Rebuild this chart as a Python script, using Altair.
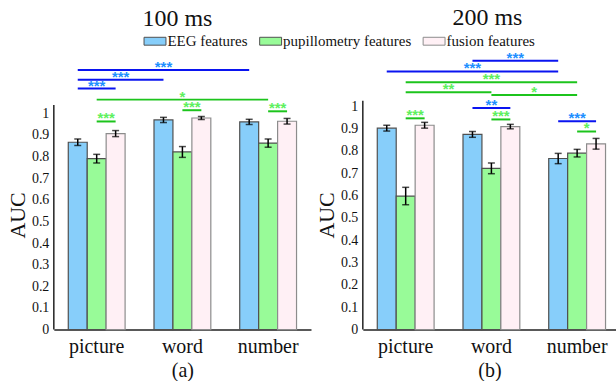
import altair as alt
import pandas as pd

# ---- data -------------------------------------------------------------
categories = ["picture", "word", "number"]
features = ["EEG features", "pupillometry features", "fusion features"]

# mean AUC per stimulus category (picture, word, number)
eeg_100 = [0.866, 0.969, 0.960]
pupil_100 = [0.790, 0.821, 0.862]
fusion_100 = [0.906, 0.978, 0.963]
eeg_100_err = [0.015, 0.012, 0.012]
pupil_100_err = [0.020, 0.025, 0.019]
fusion_100_err = [0.014, 0.007, 0.013]

eeg_200 = [0.902, 0.874, 0.766]
pupil_200 = [0.598, 0.722, 0.790]
fusion_200 = [0.915, 0.909, 0.832]
eeg_200_err = [0.013, 0.013, 0.023]
pupil_200_err = [0.039, 0.024, 0.017]
fusion_200_err = [0.013, 0.010, 0.024]

# significance brackets: (from category, from feature, to category, to feature, level, stars, kind)
brackets_100 = [
    (0, 0, 2, 0, 1.200, "***", "eeg"),
    (0, 0, 1, 0, 1.155, "***", "eeg"),
    (0, 0, 0, 2, 1.114, "***", "eeg"),
    (0, 1, 2, 1, 1.063, "*", "pupil"),
    (0, 1, 0, 2, 0.962, "***", "pupil"),
    (1, 1, 1, 2, 1.014, "***", "pupil"),
    (2, 1, 2, 2, 1.009, "***", "pupil"),
]
brackets_200 = [
    (1, 0, 2, 0, 1.204, "***", "eeg"),
    (0, 0, 2, 0, 1.156, "***", "eeg"),
    (0, 1, 2, 1, 1.108, "***", "pupil"),
    (0, 1, 1, 1, 1.0625, "**", "pupil"),
    (1, 1, 2, 1, 1.050, "*", "pupil"),
    (1, 0, 1, 2, 0.992, "**", "eeg"),
    (0, 1, 0, 2, 0.946, "***", "pupil"),
    (1, 1, 1, 2, 0.941, "***", "pupil"),
    (2, 0, 2, 2, 0.933, "***", "eeg"),
    (2, 1, 2, 2, 0.887, "*", "pupil"),
]

# ---- styling ----------------------------------------------------------
fill_colors = ["#87cefa", "#98fb98", "#fff0f5"]
edge_colors = ["#505050", "#505050", "#8c8c8c"]
line_colors = {"eeg": "#0a14f0", "pupil": "#1cc41c"}
star_colors = {"eeg": "#1e90ff", "pupil": "#5ef05e"}
SERIF = "Liberation Serif"
PAD_INNER = 0.3372          # gap between category groups
STEP = 86.0                 # pixel width of one category band
HEIGHT = 230
SHIFT = (1 - PAD_INNER) / 3  # bar width in band units


def bar_pos(cat_idx, feat_idx):
    return cat_idx + 0.5 + (feat_idx - 1) * SHIFT


def bar_table(eeg, pupil, fusion, eeg_e, pupil_e, fusion_e):
    rows = []
    for fi, (vals, errs) in enumerate(((eeg, eeg_e), (pupil, pupil_e), (fusion, fusion_e))):
        for ci, (v, e) in enumerate(zip(vals, errs)):
            rows.append({"category": categories[ci], "feature": features[fi], "auc": v,
                         "pos": bar_pos(ci, fi), "lo": v - e, "hi": v + e})
    return pd.DataFrame(rows)


def bracket_table(brackets):
    rows = []
    for c0, f0, c1, f1, level, stars, kind in brackets:
        x0 = bar_pos(c0, f0)
        x1 = bar_pos(c1, f1)
        rows.append({"x0": x0, "x1": x1, "mid": (x0 + x1) / 2,
                     "level": level, "stars": stars, "kind": kind})
    return pd.DataFrame(rows)


def panel(bars, brackets, title, sub, width, unit, axis_top, pad_outer, align,
          title_offset, title_dx):
    yscale = alt.Scale(domain=[0, HEIGHT / unit], nice=False, zero=True)
    yaxis = alt.Axis(title="AUC", values=[round(i * 0.1, 1) for i in range(11)],
                     format=".1~f", ticks=False, grid=False, domain=False,
                     labelOverlap=False, labelFont=SERIF, labelFontSize=14,
                     labelColor="#111", labelPadding=5, titleFont=SERIF,
                     titleFontSize=22, titleFontWeight="normal", titleColor="#111",
                     titlePadding=2)

    def ypos(field):
        return alt.Y(field, scale=yscale, axis=yaxis)

    xband = alt.X("category:N", sort=categories,
                  scale=alt.Scale(paddingInner=PAD_INNER, paddingOuter=pad_outer,
                                  align=align, round=False),
                  axis=alt.Axis(title=sub, ticks=False, labelAngle=0,
                                labelFont=SERIF, labelFontSize=20, labelColor="#111",
                                labelPadding=7, titleFont=SERIF, titleFontSize=20,
                                titleFontWeight="normal", titleColor="#111",
                                titlePadding=4, domainColor="#222", domainWidth=1.5))
    xq = alt.Scale(domain=[0, width / STEP], nice=False, zero=False)

    def xpos(field):
        return alt.X(field, scale=xq, axis=None)

    base = alt.Chart(bars)
    bar_layer = base.mark_bar(strokeWidth=1.2).encode(
        x=xband, xOffset=alt.XOffset("feature:N", sort=features),
        y=ypos("auc:Q"),
        color=alt.Color("feature:N", scale=alt.Scale(domain=features, range=fill_colors),
                        sort=features, legend=alt.Legend(title=None)),
        stroke=alt.Stroke("feature:N", scale=alt.Scale(domain=features, range=edge_colors),
                          legend=None),
    )
    err_rule = base.mark_rule(color="black", strokeWidth=1.5).encode(
        x=xpos("pos:Q"), y=ypos("lo:Q"), y2="hi:Q")
    cap_lo = base.mark_tick(color="black", thickness=1.5, size=7, orient="horizontal").encode(
        x=xpos("pos:Q"), y=ypos("lo:Q"))
    cap_hi = base.mark_tick(color="black", thickness=1.5, size=7, orient="horizontal").encode(
        x=xpos("pos:Q"), y=ypos("hi:Q"))

    axis_line = alt.Chart(pd.DataFrame({"x": [0.0], "bottom": [0.0], "top": [axis_top]})).mark_rule(
        color="#222", strokeWidth=1.5).encode(
        x=xpos("x:Q"), y=ypos("bottom:Q"), y2="top:Q")

    layers = [bar_layer, err_rule, cap_lo, cap_hi, axis_line]
    for kind in ("eeg", "pupil"):
        bc = alt.Chart(brackets[brackets["kind"] == kind])
        layers.append(bc.mark_rule(color=line_colors[kind], strokeWidth=2).encode(
            x=xpos("x0:Q"), x2="x1:Q", y=ypos("level:Q")))
        layers.append(bc.mark_text(color=star_colors[kind], font="Liberation Sans",
                                   fontSize=15, fontWeight="bold",
                                   baseline="alphabetic", dy=2).encode(
            x=xpos("mid:Q"), y=ypos("level:Q"), text="stars:N"))

    return alt.layer(*layers).resolve_scale(x="independent").properties(
        width=width, height=HEIGHT,
        title=alt.Title(title, font=SERIF, fontSize=24, fontWeight="normal",
                        color="#111", anchor="middle", offset=title_offset,
                        dx=title_dx),
    )


bars_100 = bar_table(eeg_100, pupil_100, fusion_100, eeg_100_err, pupil_100_err, fusion_100_err)
bars_200 = bar_table(eeg_200, pupil_200, fusion_200, eeg_200_err, pupil_200_err, fusion_200_err)

left = panel(bars_100, bracket_table(brackets_100), "100 ms", "(a)",
             258, 217, 1.038, PAD_INNER / 2, 0.5, 29, -5)
right = panel(bars_200, bracket_table(brackets_200), "200 ms", "(b)",
              254, 224, 1.025, 0.14535, 0.58, 21, -2)

chart = alt.hconcat(left, right, spacing=52, bounds="flush").configure(
    font=SERIF
).configure_axis(
    labelFont=SERIF, titleFont=SERIF
).configure_view(
    stroke=None
).configure_legend(
    orient="none", legendX=90, legendY=-71, direction="horizontal",
    symbolType="M-1,-0.36H1V0.36H-1Z", symbolSize=484,
    symbolStrokeColor="#3a3a3a", symbolStrokeWidth=1,
    labelFont=SERIF, labelFontSize=15, labelColor="#111", labelOffset=1,
    columnPadding=9, padding=0,
).properties(
    padding={"left": 6, "top": 5, "right": 0, "bottom": 0},
    background="white",
)

chart.save("out.html", embed_options={"renderer": "svg", "actions": False})
